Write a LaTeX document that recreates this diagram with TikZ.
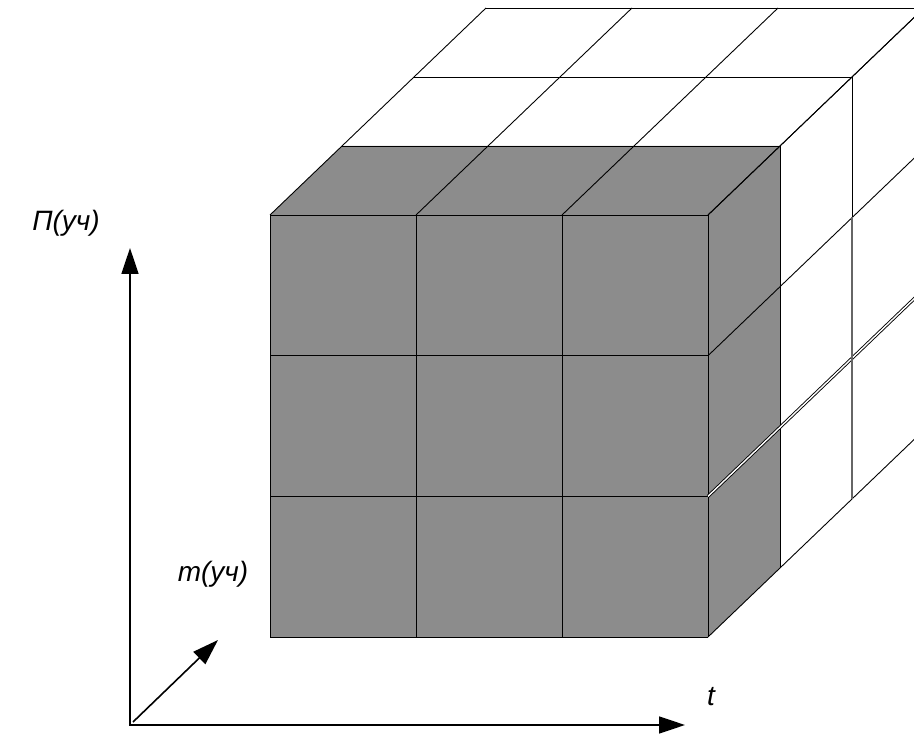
\documentclass[tikz,border=0pt]{standalone}
\usepackage{fontspec}
\setmainfont{Liberation Sans}
\usetikzlibrary{arrows.meta}

\definecolor{cubegray}{RGB}{140,140,140}

\begin{document}
\begin{tikzpicture}[x=1pt, y=-1pt, >={Triangle[length=26pt,width=17pt]},
  lbl/.style={font=\fontsize{28}{32}\selectfont\itshape, inner sep=0pt},
  edge/.style={line width=0.9pt, black},
  axis/.style={line width=1.6pt, black},
]
\useasboundingbox (0,0) rectangle (914,735);

\begin{scope}
\clip (0,0) rectangle (914,735);

%% Gray front layer
\fill[cubegray] (270,215) rectangle (708,637);
\fill[cubegray] (270,215) -- (708,215) -- (780,146) -- (342,146) -- cycle;
\fill[cubegray] (708,215) -- (780,146) -- (780,568) -- (708,637) -- cycle;

%% Front grid
\foreach \c in {270,416,562,708} \draw[edge] (\c,215) -- (\c,637);
\foreach \r in {215,355.7,496.3,637} \draw[edge] (270,\r) -- (708,\r);

%% Depth lines on top
\foreach \c in {270,416,562,708} \draw[edge] (\c,215) -- ++(216,-207);
\foreach \k in {1,2,3} \draw[edge] ({270+72*\k},{215-69*\k}) -- ++(438,0);

%% Depth lines on the right side
\foreach \r in {215,355.7,637} \draw[edge] (708,\r) -- ++(216,-207);
\foreach \k in {1,2,3} \draw[edge] ({708+72*\k},{215-69*\k}) -- ++(0,422);
\draw[edge, double=white, double distance=1.4pt] (708,496.3) -- ++(216,-207);
\draw[line width=2pt, black!60] (852,217) -- (852,499);
\end{scope}

%% Axes
\coordinate (o) at (130,725);
\coordinate (ptip) at (130,248);
\coordinate (ttip) at (685,725);
\coordinate (mfoot) at (133,722);
\coordinate (mtip) at (218,640);
\draw[axis, <->] (ptip) -- (o) -- (ttip);
\draw[axis, ->] (mfoot) -- (mtip);

%% Axis labels
\node[lbl] (plbl) at (66,223) {П(уч)};
\node[lbl] (mlbl) at (213,574) {m(уч)};
\node[lbl] (tlbl) at (711,697) {t};

\end{tikzpicture}
\end{document}
